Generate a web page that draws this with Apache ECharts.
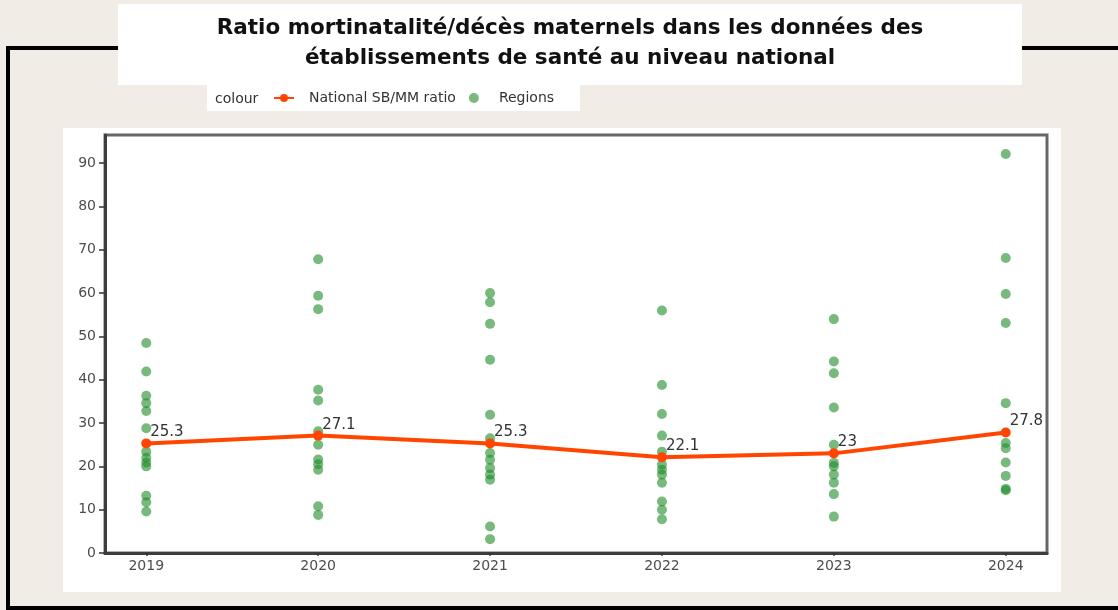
<!DOCTYPE html>
<html>
<head>
<meta charset="utf-8">
<script src="https://cdn.jsdelivr.net/npm/echarts@6/dist/echarts.min.js"></script>
<style>
  html, body { margin: 0; padding: 0; background: #f2ece7; }
  #main { width: 1118px; height: 610px; }
</style>
</head>
<body>
<div id="main"></div>
<script>
// years on the x axis
var years = [2019, 2020, 2021, 2022, 2023, 2024];
// national SB/MM ratio (red line)
var nationalRatio = [25.3, 27.1, 25.3, 22.1, 23, 27.8];
// regional ratios, one list per year (green dots)
var regions2019 = [48.5, 41.9, 36.3, 34.6, 32.8, 28.8, 23.4, 22.0, 20.9, 20.0, 13.2, 11.7, 9.6];
var regions2020 = [67.8, 59.4, 56.3, 37.7, 35.2, 28.1, 25.0, 21.6, 20.5, 19.2, 10.8, 8.8];
var regions2021 = [60.0, 57.9, 52.9, 44.6, 31.9, 26.5, 23.1, 21.5, 19.6, 18.1, 16.9, 6.1, 3.2];
var regions2022 = [56.0, 38.8, 32.1, 27.1, 23.4, 20.4, 19.2, 18.1, 16.2, 11.9, 10.0, 7.8];
var regions2023 = [54.0, 44.2, 41.5, 33.6, 25.0, 20.8, 20.0, 18.1, 16.2, 13.6, 8.4];
var regions2024 = [92.1, 68.1, 59.8, 53.1, 34.6, 25.4, 24.2, 20.9, 17.8, 14.8, 14.5];
var yTicks = [0, 10, 20, 30, 40, 50, 60, 70, 80, 90];

var regionsByYear = [regions2019, regions2020, regions2021, regions2022, regions2023, regions2024];

function myEcharts() {
    var myChart = echarts.init(document.getElementById('main'));

    var lineData = years.map(function (y, i) { return [y, nationalRatio[i]]; });
    var dotData = [];
    regionsByYear.forEach(function (list, i) {
        list.forEach(function (v) { dotData.push([years[i], v]); });
    });

    var font = 'DejaVu Sans';

    var option = {
        backgroundColor: '#f2ece7',
        animation: false,
        title: {
            text: 'Ratio mortinatalité/décès maternels dans les données des\nétablissements de santé au niveau national',
            left: 570,
            top: 13,
            textAlign: 'center',
            padding: 0,
            textStyle: {
                fontFamily: font,
                fontSize: 21.5,
                fontWeight: 'bold',
                color: '#111',
                lineHeight: 30
            }
        },
        graphic: [
            // black frame of the slide
            { type: 'rect', z: -10, shape: { x: 6, y: 46, width: 1112, height: 4 }, style: { fill: '#000' } },
            { type: 'rect', z: -10, shape: { x: 6, y: 46, width: 4, height: 564 }, style: { fill: '#000' } },
            { type: 'rect', z: -10, shape: { x: 6, y: 606, width: 1112, height: 4 }, style: { fill: '#000' } },
            // white boxes
            { type: 'rect', z: -5, shape: { x: 118, y: 4, width: 904, height: 81 }, style: { fill: '#fff' } },
            { type: 'rect', z: -5, shape: { x: 207, y: 85, width: 373, height: 26 }, style: { fill: '#fff' } },
            { type: 'rect', z: -5, shape: { x: 63, y: 128, width: 998, height: 464 }, style: { fill: '#fff' } },
            {
                type: 'text', z: 10, x: 215, y: 99,
                style: { text: 'colour', fill: '#333', font: '14px "DejaVu Sans"', verticalAlign: 'middle' }
            }
        ],
        legend: {
            left: 273,
            top: 91,
            padding: 0,
            itemWidth: 20,
            itemHeight: 10,
            itemGap: 13,
            data: [
                { name: 'National SB/MM ratio' },
                { name: 'Regions', icon: 'circle' }
            ],
            textStyle: { fontFamily: font, fontSize: 14, color: '#333', padding: [0, 0, 0, 10] }
        },
        grid: {
            left: 105,
            top: 135,
            right: 71,
            bottom: 57,
            show: true,
            borderColor: '#666',
            borderWidth: 3,
            backgroundColor: '#fff'
        },
        xAxis: {
            type: 'value',
            min: 2018.76,
            max: 2024.24,
            splitLine: { show: false },
            axisLine: { show: true, onZero: false, lineStyle: { color: '#3d3d3d', width: 3 } },
            axisTick: { show: true, customValues: years, length: 3, lineStyle: { color: '#333', width: 1.5 } },
            axisLabel: {
                customValues: years,
                margin: 6,
                fontFamily: font,
                fontSize: 14,
                color: '#4d4d4d',
                formatter: function (v) { return String(v); }
            }
        },
        yAxis: {
            type: 'value',
            min: 0,
            max: 96.5,
            splitLine: { show: false },
            axisLine: { show: true, lineStyle: { color: '#3d3d3d', width: 3 } },
            axisTick: { show: true, customValues: yTicks, length: 6, lineStyle: { color: '#333', width: 1.5 } },
            axisLabel: {
                customValues: yTicks,
                margin: 9,
                fontFamily: font,
                fontSize: 14,
                color: '#4d4d4d'
            }
        },
        series: [{
            name: 'National SB/MM ratio',
            type: 'line',
            data: lineData,
            z: 3,
            color: '#ff4500',
            symbol: 'circle',
            symbolSize: 10,
            lineStyle: { width: 4, color: '#ff4500' },
            itemStyle: { color: '#ff4500' },
            label: {
                show: true,
                position: 'right',
                offset: [-6, -11],
                fontFamily: font,
                fontSize: 15,
                color: '#333',
                formatter: function (p) { return p.value[1]; }
            }
        }, {
            name: 'Regions',
            type: 'scatter',
            data: dotData,
            z: 2,
            symbolSize: 10,
            color: 'rgba(30,140,40,0.75)',
            itemStyle: { color: 'rgba(30,140,40,0.75)' }
        }]
    };

    myChart.setOption(option);
}

myEcharts();
</script>
</body>
</html>
